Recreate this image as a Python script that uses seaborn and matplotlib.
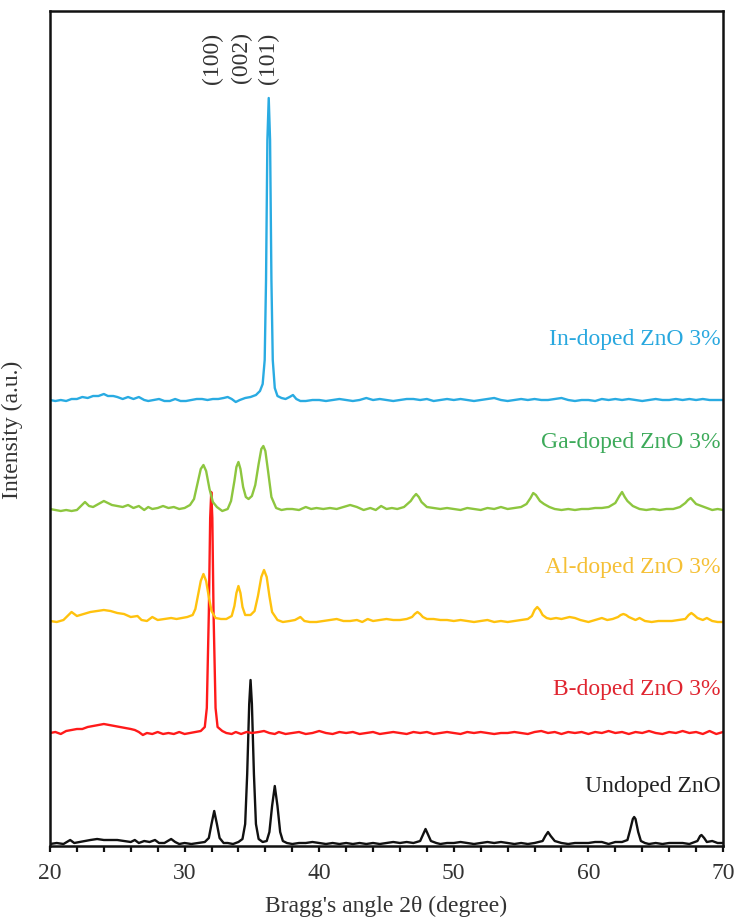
import numpy as np
import pandas as pd
import matplotlib
matplotlib.use("Agg")
import matplotlib.pyplot as plt
from matplotlib.ticker import MultipleLocator
import seaborn as sns

# ---------------- data ----------------
samples = ["Undoped ZnO", "B-doped ZnO 3%", "Al-doped ZnO 3%", "Ga-doped ZnO 3%", "In-doped ZnO 3%"]
offsets = [2, 113, 225, 337, 446]          # vertical stacking offsets (a.u.)
line_colors = ["#111111", "#FF1A1A", "#FFC20E", "#8DC63F", "#29ABE2"]
text_colors = ["#222222", "#E02530", "#F5C036", "#3DAA5A", "#29A8DF"]
label_y = [60, 157, 279, 404, 507]

undoped_x = [20.0, 20.5, 21.0, 21.5, 21.8, 22.2, 22.6, 23.0, 23.5, 24.0, 24.5, 25.0, 25.5, 26.0, 26.3, 26.6,
             27.0, 27.4, 27.8, 28.1, 28.5, 29.0, 29.3, 29.6, 30.0, 30.5, 31.0, 31.5, 31.8, 32.0, 32.2, 32.4,
             32.6, 32.9, 33.2, 33.6, 34.0, 34.3, 34.5, 34.65, 34.8, 34.9, 35.0, 35.15, 35.3, 35.5, 35.8, 36.1,
             36.3, 36.5, 36.7, 36.9, 37.1, 37.3, 37.6, 38.0,
             38.5, 39.0, 39.5, 40.0, 40.5, 41.0, 41.5, 42.0, 42.5, 43.0, 43.5, 44.0, 44.5, 45.0, 45.5, 46.0,
             46.5, 47.0, 47.5, 47.7, 47.9, 48.1, 48.3, 48.7, 49.0, 49.5, 50.0, 50.5, 51.0, 51.5, 52.0, 52.5,
             53.0, 53.5, 54.0, 54.5, 55.0, 55.5, 56.0, 56.6, 56.8, 57.0, 57.2, 57.5, 58.0, 58.5, 59.0, 59.5,
             60.0, 60.5, 61.0, 61.5, 62.0, 62.5, 62.9, 63.1, 63.3, 63.4, 63.5, 63.7, 63.9, 64.2, 64.5, 65.0,
             65.5, 66.0, 66.5, 67.0, 67.5, 68.1, 68.3, 68.4, 68.6, 68.8, 69.2, 69.6, 70.0]
undoped_y = [0, 1, 0, 4, 1, 2, 3, 4, 5, 4, 4, 4, 3, 2, 4, 1,
             3, 2, 4, 1, 1, 5, 2, 0, 1, 0, 1, 2, 6, 20, 33, 20,
             6, 1, 1, 0, 2, 5, 20, 70, 140, 164, 140, 70, 20, 5, 2, 3,
             12, 38, 58, 38, 12, 3, 1, 0,
             1, 1, 2, 1, 0, 1, 0, 1, 0, 1, 0, 1, 0, 1, 2, 1,
             2, 1, 3, 9, 15, 9, 3, 1, 0, 1, 1, 2, 1, 0, 1, 2,
             1, 2, 1, 0, 1, 0, 1, 3, 8, 12, 8, 3, 1, 0, 1, 1,
             1, 2, 2, 0, 2, 2, 4, 14, 25, 27, 25, 12, 3, 1, 0, 1,
             0, 1, 1, 1, 0, 3, 8, 9, 6, 2, 3, 1, 1]

bdoped_x = [20.0, 20.4, 20.8, 21.2, 21.6, 22.0, 22.4, 22.8, 23.2, 23.6, 24.0, 24.4, 24.8, 25.2, 25.6, 26.0,
            26.3, 26.6, 26.9, 27.2, 27.6, 28.0, 28.4, 28.8, 29.2, 29.6, 30.0, 30.4, 30.8, 31.2, 31.5, 31.65,
            31.8, 31.9, 31.98, 32.06, 32.15, 32.3, 32.45, 32.8, 33.1, 33.5, 33.8, 34.2, 34.6, 35.0, 35.5, 35.9,
            36.3, 36.7, 37.0, 37.5,
            38.0, 38.5, 39.0, 39.5, 40.0, 40.5, 41.0, 41.5, 42.0, 42.5, 43.0, 43.5, 44.0, 44.5, 45.0, 45.5,
            46.0, 46.5, 47.0, 47.5, 48.0, 48.5, 49.0, 49.5, 50.0, 50.5, 51.0, 51.5, 52.0, 52.5, 53.0, 53.5,
            54.0, 54.5, 55.0, 55.5, 56.0, 56.5, 57.0, 57.5, 58.0, 58.5, 59.0, 59.5, 60.0, 60.5, 61.0, 61.5,
            62.0, 62.5, 63.0, 63.5, 64.0, 64.5, 65.0, 65.5, 66.0, 66.5, 67.0, 67.5, 68.0, 68.5, 69.0, 69.5, 70.0]
bdoped_y = [0, 1, -1, 2, 3, 4, 4, 6, 7, 8, 9, 8, 7, 6, 5, 4,
            3, 1, -2, 0, -1, 1, -1, 0, -1, 1, -1, 0, 1, 2, 6, 25,
            120, 215, 241, 215, 120, 25, 6, 2, 0, -1, 1, -1, 1, 0, 1, 2,
            0, -1, 1, -1,
            0, 1, -1, 0, 2, 0, -1, 1, 0, 1, -1, 0, 1, -1, 0, 1,
            0, -1, 1, 0, 1, -1, 0, 1, 0, -1, 1, 0, 1, 0, -1, 0,
            0, 1, 0, -1, 1, 2, 0, 1, -1, 1, 0, 1, -1, 1, 0, 2,
            0, 1, -1, 1, 0, 2, 0, -1, 1, 0, 2, 0, 1, -1, 2, -1, 1]

aldoped_x = [20.0, 20.5, 21.0, 21.6, 22.0, 22.5, 23.0, 23.5, 24.0, 24.5, 25.0, 25.5, 26.0, 26.5, 26.8, 27.2,
             27.6, 28.0, 28.5, 29.0, 29.4, 29.8, 30.2, 30.6, 30.8, 31.0, 31.2, 31.4, 31.6, 31.8, 32.0, 32.3,
             32.7, 33.1, 33.5, 33.7, 33.85, 34.0, 34.15, 34.3, 34.5, 34.9, 35.2, 35.45, 35.7, 35.9, 36.1, 36.3,
             36.5, 36.9, 37.3, 37.8, 38.2, 38.6, 38.9, 39.3,
             39.8, 40.3, 40.8, 41.3, 41.8, 42.3, 42.8, 43.2, 43.6, 44.0, 44.5, 45.0, 45.5, 46.0, 46.5, 46.9,
             47.1, 47.3, 47.5, 47.7, 48.0, 48.5, 49.0, 49.5, 50.0, 50.5, 51.0, 51.5, 52.0, 52.5, 53.0, 53.5,
             54.0, 54.5, 55.0, 55.5, 55.8, 56.0, 56.2, 56.4, 56.6, 56.9, 57.2, 57.6, 58.0, 58.6, 59.0, 59.4,
             60.0, 60.5, 61.0, 61.4, 61.8, 62.2, 62.4, 62.6, 62.8, 63.0, 63.5, 63.8, 64.2, 64.7, 65.2, 65.7,
             66.2, 66.7, 67.2, 67.45, 67.65, 67.85, 68.1, 68.5, 68.8, 69.2, 69.6, 70.0]
aldoped_y = [0, -1, 1, 9, 5, 7, 9, 10, 11, 10, 8, 7, 4, 5, 1, 0,
             4, 1, 2, 3, 2, 3, 4, 6, 12, 26, 40, 47, 40, 24, 10, 3,
             2, 2, 5, 15, 28, 35, 28, 14, 6, 6, 10, 25, 44, 51, 44, 25,
             9, 1, -1, 0, 1, 4, 0, -1,
             -1, 0, 1, 2, 0, 0, 1, -1, 2, 0, 1, 2, 1, 1, 2, 4,
             7, 9, 7, 4, 2, 2, 1, 1, 0, 1, 0, -1, 0, 1, -1, 0,
             -1, 0, 1, 2, 5, 11, 14, 11, 6, 3, 2, 3, 2, 4, 3, 1,
             -1, 1, 3, 1, 2, 4, 6, 7, 6, 4, 1, 3, 0, -1, 0, 0,
             0, 1, 2, 6, 8, 6, 3, 1, 3, 0, -1, -1]

gadoped_x = [20.0, 20.4, 20.8, 21.2, 21.6, 22.0, 22.3, 22.6, 22.9, 23.2, 23.6, 24.0, 24.3, 24.6, 25.0, 25.4,
             25.8, 26.2, 26.6, 27.0, 27.3, 27.6, 28.0, 28.4, 28.8, 29.2, 29.6, 30.0, 30.4, 30.7, 30.95, 31.2,
             31.4, 31.6, 31.85, 32.1, 32.4, 32.8, 33.2, 33.45, 33.7, 33.85, 34.0, 34.15, 34.35, 34.55, 34.75, 35.0,
             35.25, 35.5, 35.7, 35.85, 36.0, 36.2, 36.45, 36.8, 37.2, 37.6, 38.0, 38.5, 39.0, 39.4, 39.8, 40.3,
             40.8, 41.3, 41.8, 42.3, 42.8, 43.3, 43.8, 44.2, 44.6, 45.0, 45.4, 45.8, 46.3, 46.8, 47.0, 47.2,
             47.4, 47.6, 48.0, 48.5, 49.0, 49.5, 50.0, 50.5, 51.0, 51.5, 52.0, 52.5, 53.0, 53.5, 54.0, 54.5,
             55.0, 55.4, 55.7, 55.9, 56.1, 56.4, 56.7, 57.1, 57.5, 58.0, 58.5, 59.0, 59.5, 60.0, 60.5, 61.0,
             61.5, 62.0, 62.3, 62.5, 62.7, 62.9, 63.3, 63.8, 64.3, 64.8, 65.3, 65.8, 66.3, 66.8, 67.2, 67.4,
             67.6, 67.8, 68.0, 68.4, 68.8, 69.2, 69.6, 70.0]
gadoped_y = [0, -1, -2, -1, -2, -1, 3, 7, 3, 2, 5, 8, 6, 4, 3, 2,
             4, 1, 3, -1, 2, 0, 1, 3, 1, 2, 0, 1, 4, 10, 25, 40,
             44, 38, 20, 7, 2, -2, 0, 8, 28, 42, 47, 40, 22, 12, 10, 13,
             24, 45, 60, 63, 58, 38, 12, 1, -1, 0, 0, -1, 2, 0, 1, 0,
             1, 0, 2, 4, 2, -1, 1, -1, 3, 0, 1, 0, 2, 8, 12, 15,
             12, 7, 2, 1, 0, 1, 0, -1, 1, 0, -1, 1, 0, 2, 0, 1,
             2, 5, 11, 16, 14, 8, 5, 2, 0, -1, 0, -1, 0, 0, 1, 1,
             2, 6, 13, 17, 12, 8, 3, 0, -1, 0, -1, 0, 0, 2, 6, 9,
             11, 8, 5, 3, 1, -1, 0, -1]

indoped_x = [20.0, 20.4, 20.8, 21.2, 21.6, 22.0, 22.4, 22.8, 23.2, 23.6, 24.0, 24.3, 24.7, 25.0, 25.4, 25.8,
             26.2, 26.6, 27.0, 27.3, 27.7, 28.1, 28.5, 28.9, 29.3, 29.7, 30.1, 30.5, 30.9, 31.3, 31.7, 32.1,
             32.5, 32.9, 33.2, 33.5, 33.8, 34.1, 34.5, 34.9, 35.3, 35.6, 35.8, 35.95, 36.05, 36.15, 36.25, 36.35,
             36.45, 36.55, 36.7, 36.9, 37.2, 37.5, 37.8, 38.05, 38.3, 38.6, 39.0, 39.5, 40.0, 40.5, 41.0, 41.5,
             42.0, 42.5, 43.0, 43.5, 44.0, 44.5, 45.0, 45.5, 46.0, 46.5, 47.0, 47.5, 48.0, 48.5, 49.0, 49.5,
             50.0, 50.5, 51.0, 51.5, 52.0, 52.5, 53.0, 53.5, 54.0, 54.5, 55.0, 55.5, 56.0, 56.5, 57.0, 57.5,
             58.0, 58.5, 59.0, 59.5, 60.0, 60.5, 61.0, 61.5, 62.0, 62.5, 63.0, 63.5, 64.0, 64.5, 65.0, 65.5,
             66.0, 66.5, 67.0, 67.5, 68.0, 68.5, 69.0, 69.5, 70.0]
indoped_y = [0, -1, 0, -1, 1, 1, 3, 2, 4, 4, 6, 4, 4, 3, 1, 3,
             1, 3, 0, -1, 0, 1, -1, -1, 1, -1, -1, 0, 1, 1, 0, 1,
             1, 2, 3, 1, -2, 0, 2, 3, 5, 9, 16, 40, 120, 260, 302, 260,
             120, 40, 12, 4, 2, 1, 3, 5, 1, -1, -1, 0, 0, -1, 0, 1,
             0, -1, 0, 2, 0, 1, 0, -1, 0, 1, 1, 0, 1, -1, 0, 1,
             0, 1, 0, -1, 0, 1, 2, 0, -1, 0, 1, 0, 1, 0, 0, 1,
             2, 0, -1, 0, 0, -1, 1, 0, 1, 0, 1, 0, -1, 0, 1, 0,
             0, 1, 0, 1, 0, 1, 0, 0, 0]

series_x = [undoped_x, bdoped_x, aldoped_x, gadoped_x, indoped_x]
series_y = [undoped_y, bdoped_y, aldoped_y, gadoped_y, indoped_y]

plane_labels = ["(100)", "(002)", "(101)"]
plane_pos = [32.1, 34.2, 36.2]

# ---------------- build long-form table ----------------
frames = []
for name, xs, ys, off in zip(samples, series_x, series_y, offsets):
    frames.append(pd.DataFrame({"two_theta": xs,
                                "intensity": np.asarray(ys, float) + off,
                                "sample": name}))
df = pd.concat(frames, ignore_index=True)

# ---------------- style ----------------
sns.set_theme(style="white")
plt.rcParams["font.family"] = ["Liberation Serif", "DejaVu Serif"]

fig = plt.figure(figsize=(7.37, 9.2), dpi=100)
ax = fig.add_axes([50 / 737, 1 - 847 / 920, 673 / 737, 835 / 920])

sns.lineplot(data=df, x="two_theta", y="intensity", hue="sample",
             hue_order=samples, palette=dict(zip(samples, line_colors)),
             estimator=None, sort=False, legend=False, linewidth=1.7, ax=ax)

ax.set_xlim(20, 70)
ax.set_ylim(0, 835)
ax.xaxis.set_major_locator(MultipleLocator(10))
ax.xaxis.set_minor_locator(MultipleLocator(2))
ax.tick_params(axis="x", which="both", direction="out", length=4.5, width=1.6,
               bottom=True, labelsize=17, pad=7, colors="#111111", labelcolor="#333333")
ax.set_yticks([])
for s in ax.spines.values():
    s.set_linewidth(1.8)
    s.set_color("#111111")

ax.set_xlabel("Bragg's angle 2θ (degree)", fontsize=17, color="#333333")
ax.set_ylabel("Intensity (a.u.)", fontsize=17, color="#333333")
ax.xaxis.set_label_coords(0.5, -0.058)
ax.yaxis.set_label_coords(-0.040, 0.5)

for name, ly, tc in zip(samples, label_y, text_colors):
    ax.text(69.85, ly, name, ha="right", va="center", fontsize=17, color=tc)

for lab, xp in zip(plane_labels, plane_pos):
    ax.text(xp, 789, lab, rotation=90, ha="center", va="center", fontsize=17, color="#333333")

fig.savefig("out.png", dpi=100)
